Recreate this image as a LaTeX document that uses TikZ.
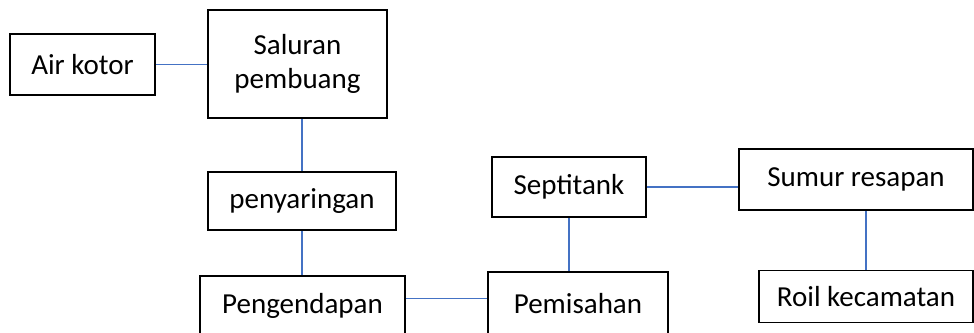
\documentclass[tikz,border=0pt]{standalone}
\usepackage{fontspec}
\setmainfont{Carlito}
\tikzset{
    box/.style={draw, line width=1pt, inner sep=2pt, align=center,
        font=\fontsize{16.5}{19.5}\selectfont},
    link/.style={draw={rgb,255:red,68;green,114;blue,196}, line width=0.7pt}
}
\begin{document}
\begin{tikzpicture}[x=0.02cm, y=-0.02cm]
    \useasboundingbox (0,0) rectangle (974,333);
    \clip (0,0) rectangle (974,333);
    % Left column
    \node[box, minimum width=2.9cm, minimum height=1.22cm] (airkotor) at (82.5,64.5) {Air kotor};
    \node[box, minimum width=3.58cm, minimum height=2.16cm] (saluran) at (297.5,64) {Saluran\\pembuang};
    \node[box, minimum width=3.76cm, minimum height=1.16cm] (penyaringan) at (302,201) {penyaringan};
    \node[box, minimum width=4.1cm, minimum height=1.2cm] (pengendapan) at (302.5,306) {Pengendapan};
    % Middle column
    \node[box, minimum width=3.6cm, minimum height=1.28cm] (pemisahan) at (578,304) {Pemisahan};
    \node[box, minimum width=3.08cm, minimum height=1.2cm] (septitank) at (569,187) {Septitank};
    % Right column
    \node[box, minimum width=4.68cm, minimum height=1.22cm] (sumur) at (856,179.5) {Sumur resapan};
    \node[box, minimum width=4.28cm, minimum height=1.04cm] (roil) at (866,296.5) {Roil kecamatan};
    % Connectors
    \draw[link] (airkotor.east) -- (airkotor.east -| saluran.west);
    \draw[link] (penyaringan.north) -- (penyaringan.north |- saluran.south);
    \draw[link] (penyaringan.south) -- (penyaringan.south |- pengendapan.north);
    \draw[link] (pengendapan.4) -- (pengendapan.4 -| pemisahan.west);
    \draw[link] (septitank.south) -- (septitank.south |- pemisahan.north);
    \draw[link] (septitank.east) -- (septitank.east -| sumur.west);
    \draw[link] (roil.north) -- (roil.north |- sumur.south);
\end{tikzpicture}
\end{document}
